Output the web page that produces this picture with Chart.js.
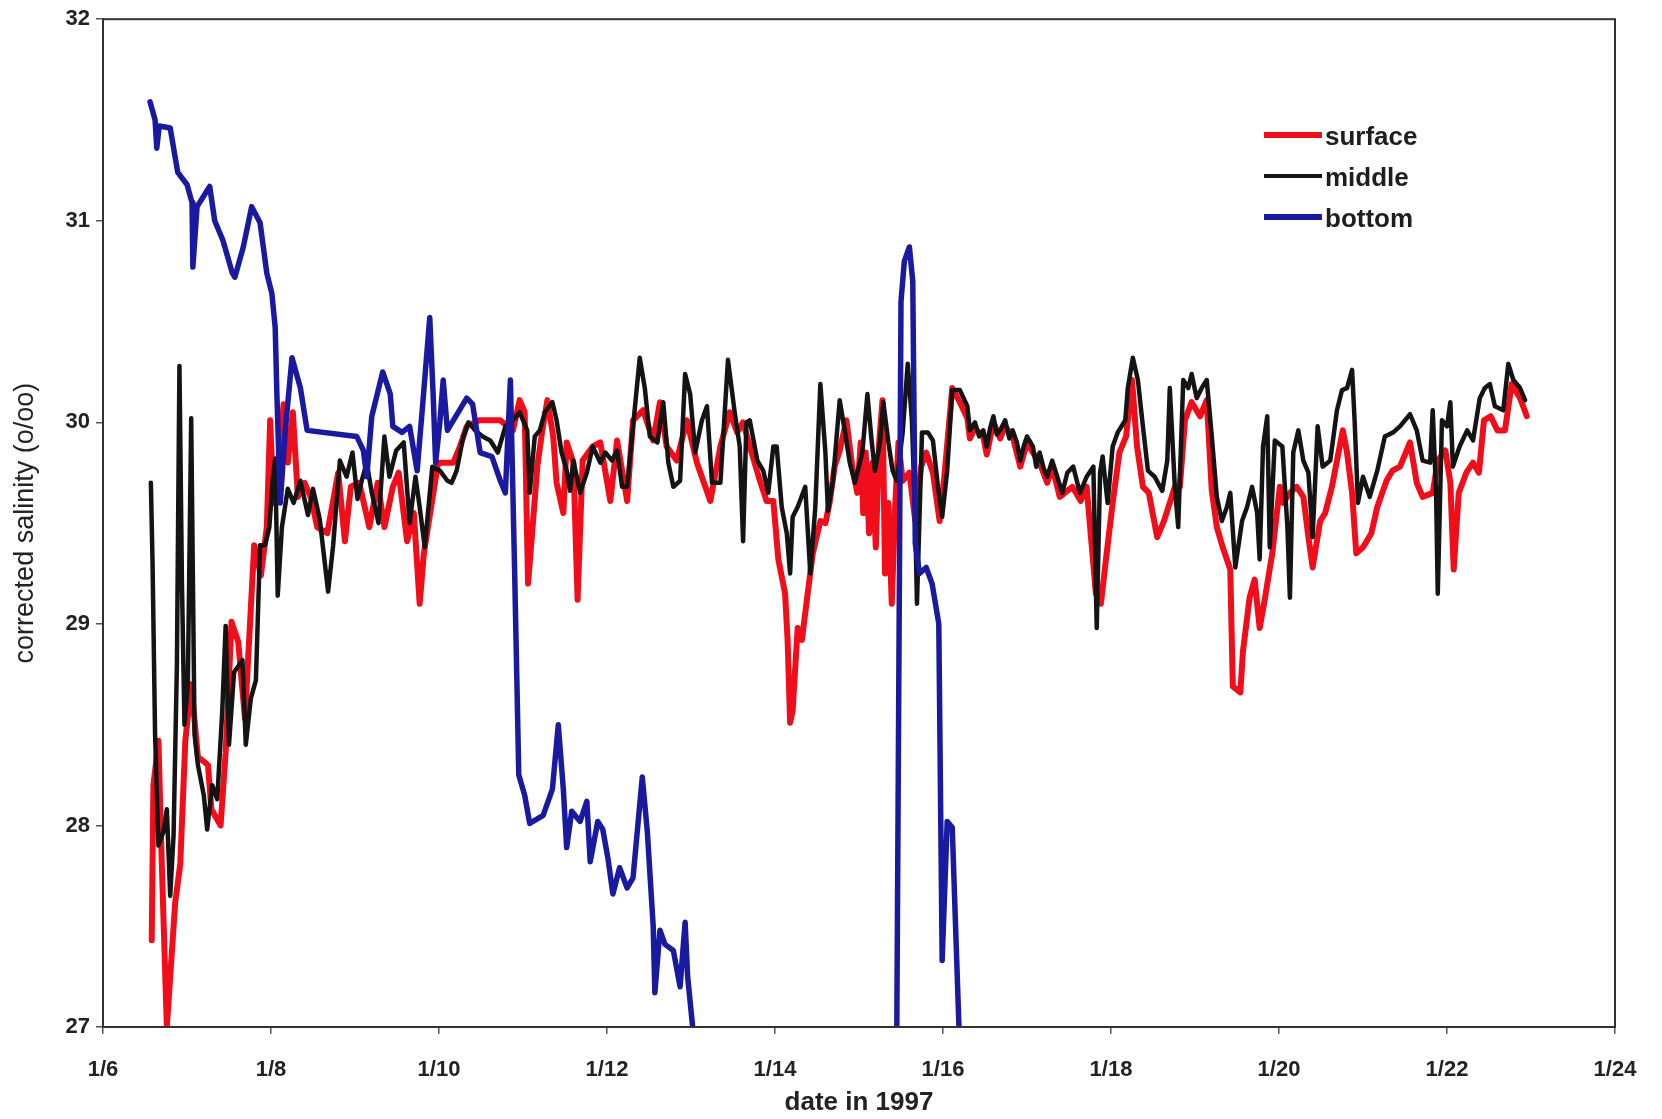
<!DOCTYPE html>
<html>
<head>
<meta charset="utf-8">
<script src="https://cdn.jsdelivr.net/npm/chart.js@4.4.1/dist/chart.umd.min.js"></script>
<style>
  html, body { margin: 0; background: #fff; }
</style>
</head>
<body>
<canvas id="chart" width="1662" height="1119"></canvas>
<script>
// [day of January 1997, corrected salinity]
const surface = [
  [6.58,27.43],[6.60,28.2],[6.62,28.27],[6.66,28.42],[6.70,27.81],[6.76,27.0],[6.86,27.62],[6.92,27.81],
  [6.98,28.42],[7.05,28.70],[7.13,28.34],[7.25,28.30],[7.29,28.08],[7.40,28.00],[7.46,28.36],[7.53,29.01],
  [7.61,28.91],[7.69,28.53],[7.80,29.39],[7.88,29.24],[7.95,29.48],[7.99,30.01],[8.03,29.6],[8.08,29.75],
  [8.15,30.09],[8.20,29.8],[8.26,30.05],[8.32,29.63],[8.40,29.7],[8.48,29.62],[8.55,29.48],[8.67,29.45],
  [8.80,29.75],[8.88,29.41],[8.95,29.68],[9.05,29.70],[9.17,29.48],[9.27,29.7],[9.35,29.48],[9.45,29.68],
  [9.52,29.75],[9.62,29.41],[9.70,29.55],[9.77,29.10],[9.82,29.35],[9.88,29.51],[9.99,29.80],[10.10,29.80],
  [10.17,29.80],[10.25,29.88],[10.33,29.98],[10.48,30.01],[10.73,30.01],[10.88,29.96],[10.96,30.11],[11.02,30.05],
  [11.06,29.20],[11.12,29.51],[11.17,29.78],[11.23,29.96],[11.29,30.11],[11.36,29.93],[11.40,29.70],[11.48,29.55],
  [11.52,29.90],[11.60,29.80],[11.65,29.12],[11.71,29.81],[11.83,29.88],[11.92,29.90],[12.04,29.61],[12.12,29.91],
  [12.24,29.61],[12.31,30.01],[12.43,30.06],[12.55,29.91],[12.63,30.10],[12.71,29.88],[12.83,29.81],[12.95,30.01],
  [13.07,29.80],[13.23,29.61],[13.35,29.88],[13.46,30.05],[13.55,29.95],[13.62,30.0],[13.70,29.88],[13.82,29.71],
  [13.90,29.61],[13.98,29.61],[14.04,29.32],[14.12,29.15],[14.15,28.92],[14.18,28.51],[14.21,28.57],[14.27,28.98],
  [14.32,28.92],[14.38,29.12],[14.45,29.35],[14.54,29.51],[14.60,29.50],[14.65,29.60],[14.71,29.78],[14.77,29.86],
  [14.85,30.01],[14.92,29.78],[14.98,29.65],[15.02,29.9],[15.05,29.55],[15.08,29.85],[15.12,29.45],[15.16,29.8],
  [15.20,29.38],[15.24,29.9],[15.28,30.11],[15.31,29.25],[15.35,29.6],[15.39,29.10],[15.43,29.58],[15.47,29.9],
  [15.52,29.71],[15.60,29.75],[15.67,29.51],[15.74,29.78],[15.80,29.85],[15.88,29.75],[15.96,29.51],[16.02,29.75],
  [16.11,30.17],[16.20,30.10],[16.29,30.02],[16.32,29.92],[16.38,29.97],[16.48,29.93],[16.52,29.84],[16.60,30.0],
  [16.68,29.92],[16.74,29.98],[16.83,29.93],[16.92,29.78],[17.0,29.9],[17.07,29.85],[17.15,29.80],[17.24,29.70],
  [17.30,29.78],[17.36,29.68],[17.39,29.63],[17.54,29.68],[17.64,29.61],[17.71,29.68],[17.82,29.15],[17.88,29.10],
  [17.94,29.32],[18.02,29.60],[18.10,29.85],[18.18,29.93],[18.25,30.21],[18.31,29.88],[18.38,29.68],[18.45,29.65],
  [18.55,29.43],[18.63,29.51],[18.70,29.60],[18.76,29.68],[18.82,29.68],[18.88,30.01],[18.96,30.10],[19.06,30.03],
  [19.14,30.11],[19.20,29.66],[19.26,29.48],[19.33,29.38],[19.42,29.27],[19.45,28.69],[19.54,28.66],[19.57,28.86],
  [19.65,29.13],[19.71,29.22],[19.77,28.98],[19.83,29.12],[19.92,29.35],[20.01,29.68],[20.05,29.60],[20.13,29.65],
  [20.21,29.68],[20.29,29.63],[20.35,29.43],[20.40,29.28],[20.49,29.51],[20.55,29.55],[20.63,29.68],[20.69,29.81],
  [20.76,29.96],[20.81,29.85],[20.87,29.65],[20.92,29.35],[21.0,29.38],[21.10,29.45],[21.17,29.58],[21.28,29.71],
  [21.35,29.76],[21.44,29.78],[21.56,29.90],[21.64,29.70],[21.71,29.63],[21.83,29.65],[21.89,29.81],[21.98,29.86],
  [22.04,29.70],[22.08,29.27],[22.14,29.65],[22.23,29.75],[22.31,29.80],[22.38,29.75],[22.44,30.01],[22.52,30.03],
  [22.60,29.96],[22.69,29.96],[22.77,30.19],[22.87,30.12],[22.95,30.03]
];

const middle = [
  [6.57,29.70],[6.59,29.3],[6.62,28.45],[6.66,27.9],[6.72,27.97],[6.76,28.08],[6.80,27.65],[6.84,27.95],
  [6.88,28.8],[6.91,30.28],[6.94,29.2],[6.97,28.5],[7.01,28.7],[7.05,30.02],[7.09,28.45],[7.13,28.3],
  [7.20,28.15],[7.24,27.98],[7.30,28.2],[7.36,28.13],[7.42,28.57],[7.46,28.99],[7.50,28.4],[7.56,28.76],
  [7.66,28.82],[7.70,28.40],[7.76,28.63],[7.82,28.72],[7.87,29.39],[7.93,29.39],[7.98,29.48],[8.02,29.71],
  [8.05,29.82],[8.08,29.14],[8.13,29.48],[8.20,29.67],[8.27,29.6],[8.35,29.71],[8.44,29.54],[8.50,29.67],[8.58,29.52],
  [8.68,29.16],[8.74,29.39],[8.82,29.81],[8.90,29.73],[8.97,29.85],[9.03,29.62],[9.08,29.71],[9.14,29.8],[9.20,29.65],[9.28,29.5],
  [9.35,29.93],[9.41,29.73],[9.49,29.86],[9.58,29.90],[9.65,29.50],[9.72,29.73],[9.77,29.58],[9.83,29.38],
  [9.92,29.78],[10.01,29.76],[10.10,29.71],[10.15,29.70],[10.21,29.76],[10.29,29.93],[10.35,30.0],[10.43,29.96],
  [10.52,29.93],[10.61,29.91],[10.70,29.85],[10.79,29.98],[10.88,30.01],[10.96,30.05],[11.05,29.96],[11.08,29.65],
  [11.14,29.93],[11.20,29.96],[11.26,30.05],[11.35,30.10],[11.40,30.01],[11.46,29.85],[11.52,29.76],[11.56,29.66],
  [11.60,29.81],[11.68,29.65],[11.76,29.75],[11.83,29.88],[11.92,29.80],[11.98,29.85],[12.06,29.81],[12.12,29.86],
  [12.18,29.68],[12.24,29.68],[12.31,29.98],[12.39,30.32],[12.45,30.17],[12.51,29.93],[12.60,29.90],[12.67,30.10],
  [12.73,29.80],[12.79,29.68],[12.87,29.71],[12.93,30.24],[12.99,30.14],[13.05,29.85],[13.13,30.01],[13.19,30.08],
  [13.25,29.70],[13.35,29.70],[13.44,30.31],[13.52,30.05],[13.58,29.88],[13.62,29.41],[13.66,30.0],[13.70,30.01],
  [13.79,29.81],[13.86,29.76],[13.92,29.65],[13.98,29.88],[14.02,29.88],[14.08,29.58],[14.14,29.45],[14.18,29.25],
  [14.21,29.53],[14.27,29.58],[14.36,29.68],[14.42,29.25],[14.48,29.58],[14.54,30.19],[14.60,29.85],[14.63,29.56],
  [14.69,29.71],[14.77,30.11],[14.83,29.96],[14.89,29.80],[14.95,29.70],[15.04,29.85],[15.10,30.14],[15.15,29.91],
  [15.19,29.76],[15.25,29.90],[15.29,30.10],[15.35,29.90],[15.40,29.76],[15.45,29.71],[15.52,29.95],[15.58,30.29],
  [15.63,30.01],[15.67,29.51],[15.69,29.10],[15.75,29.95],[15.82,29.95],[15.88,29.91],[15.94,29.68],[15.99,29.53],
  [16.05,29.76],[16.11,30.16],[16.20,30.16],[16.29,30.08],[16.32,29.96],[16.38,30.0],[16.43,29.93],[16.48,29.96],[16.52,29.88],
  [16.56,29.97],[16.60,30.03],[16.64,29.94],[16.68,29.96],[16.74,30.01],[16.79,29.92],[16.83,29.96],[16.88,29.9],[16.92,29.81],[16.96,29.88],[17.0,29.93],[17.07,29.88],[17.11,29.78],[17.15,29.85],
  [17.20,29.77],[17.24,29.73],[17.30,29.81],[17.36,29.73],[17.42,29.65],[17.48,29.75],[17.55,29.78],[17.63,29.65],[17.71,29.73],
  [17.79,29.78],[17.83,28.98],[17.87,29.75],[17.90,29.83],[17.96,29.60],[18.02,29.88],[18.08,29.95],[18.17,30.01],
  [18.20,30.17],[18.26,30.32],[18.32,30.21],[18.38,29.98],[18.44,29.76],[18.52,29.73],[18.61,29.66],[18.67,29.81],
  [18.70,30.17],[18.76,29.68],[18.80,29.48],[18.86,30.21],[18.92,30.17],[18.96,30.24],[19.02,30.12],[19.08,30.17],
  [19.14,30.21],[19.20,29.93],[19.26,29.63],[19.32,29.51],[19.38,29.58],[19.42,29.65],[19.48,29.28],[19.56,29.51],
  [19.62,29.58],[19.68,29.68],[19.74,29.55],[19.77,29.32],[19.81,29.88],[19.86,30.03],[19.89,29.38],[19.95,29.91],
  [20.04,29.88],[20.10,29.48],[20.13,29.13],[20.17,29.85],[20.23,29.96],[20.29,29.81],[20.35,29.75],[20.40,29.43],
  [20.46,29.98],[20.52,29.78],[20.61,29.81],[20.69,30.06],[20.75,30.16],[20.81,30.17],[20.87,30.26],[20.90,30.01],
  [20.94,29.60],[21.0,29.73],[21.08,29.63],[21.17,29.76],[21.26,29.93],[21.36,29.95],[21.44,29.98],[21.56,30.04],
  [21.64,29.96],[21.71,29.81],[21.80,29.80],[21.83,30.06],[21.87,29.65],[21.89,29.15],[21.94,30.01],[22.0,29.98],
  [22.04,30.10],[22.07,29.78],[22.15,29.88],[22.24,29.96],[22.31,29.91],[22.39,30.12],[22.45,30.17],[22.51,30.19],
  [22.57,30.08],[22.67,30.06],[22.73,30.29],[22.79,30.21],[22.87,30.17],[22.93,30.11]
];

const bottom = [
  [6.56,31.59],[6.62,31.50],[6.64,31.36],[6.67,31.47],[6.80,31.46],[6.89,31.24],[7.00,31.18],[7.06,31.09],
  [7.07,30.77],[7.12,31.07],[7.27,31.17],[7.33,31.00],[7.43,30.90],[7.54,30.74],[7.57,30.72],[7.67,30.87],
  [7.77,31.07],[7.87,30.99],[7.95,30.74],[8.01,30.64],[8.05,30.47],[8.07,30.14],[8.11,29.60],[8.17,29.96],
  [8.25,30.32],[8.35,30.17],[8.43,29.96],[9.02,29.93],[9.10,29.86],[9.14,29.73],[9.20,30.03],[9.33,30.25],
  [9.42,30.14],[9.45,29.98],[9.56,29.95],[9.65,29.98],[9.74,29.76],[9.81,30.11],[9.89,30.52],[9.93,30.14],
  [9.96,29.80],[10.01,30.0],[10.05,30.21],[10.10,29.96],[10.33,30.12],[10.40,30.09],[10.49,29.85],[10.63,29.83],
  [10.73,29.71],[10.79,29.65],[10.85,30.21],[10.90,29.27],[10.95,28.25],[11.02,28.15],[11.08,28.01],[11.24,28.05],
  [11.35,28.18],[11.42,28.50],[11.48,28.18],[11.52,27.89],[11.58,28.07],[11.68,28.02],[11.76,28.12],[11.80,27.82],
  [11.89,28.02],[11.95,27.98],[12.01,27.84],[12.07,27.66],[12.15,27.79],[12.24,27.69],[12.31,27.74],[12.42,28.24],
  [12.48,27.97],[12.55,27.50],[12.57,27.17],[12.63,27.48],[12.69,27.41],[12.79,27.38],[12.87,27.20],[12.93,27.52],
  [12.96,27.25],[13.02,27.0],[13.10,26.6],[15.40,26.6],[15.45,27.0],[15.50,30.6],[15.54,30.8],[15.60,30.87],
  [15.64,30.7],[15.67,29.4],[15.72,29.25],[15.80,29.28],[15.87,29.2],[15.95,29.0],[15.99,27.33],[16.05,28.02],
  [16.11,27.99],[16.19,27.0],[16.25,26.6]
];

const xTicks = [6, 8, 10, 12, 14, 16, 18, 20, 22, 24];
const yTicks = [27, 28, 29, 30, 31, 32];

const FONT = "'Liberation Sans', Arial, sans-serif";

const frame = {
  id: 'frame',
  afterDatasetsDraw(chart) {
    const { ctx, chartArea: a } = chart;
    ctx.save();
    ctx.strokeStyle = '#333';
    ctx.lineWidth = 2;
    ctx.strokeRect(a.left, a.top, a.right - a.left, a.bottom - a.top);
    ctx.restore();
  }
};

const legendBox = {
  id: 'legendBox',
  afterDraw(chart) {
    const { ctx } = chart;
    ctx.save();
    ctx.font = 'bold 26px ' + FONT;
    ctx.textBaseline = 'middle';
    [0, 1, 2].forEach(i => {
      const ds = chart.data.datasets[i];
      const y = 135 + i * 41;
      ctx.strokeStyle = ds.borderColor;
      ctx.lineWidth = ds.legendWidth;
      ctx.beginPath();
      ctx.moveTo(1264, y);
      ctx.lineTo(1322, y);
      ctx.stroke();
      ctx.fillStyle = '#1e1e1e';
      ctx.fillText(ds.label, 1325, y + 3);
    });
    ctx.restore();
  }
};

const axisStyle = {
  grid: { drawOnChartArea: false, drawTicks: true, tickLength: 7, color: '#555', lineWidth: 1.5 },
  border: { display: true, color: '#333', width: 2 }
};

new Chart(document.getElementById('chart'), {
  type: 'line',
  data: {
    datasets: [
      { label: 'surface', data: surface, borderColor: '#f20d1a', borderWidth: 6, legendWidth: 6, order: 3 },
      { label: 'middle', data: middle, borderColor: '#141414', borderWidth: 4.5, legendWidth: 4, order: 2 },
      { label: 'bottom', data: bottom, borderColor: '#1a1aa0', borderWidth: 5.5, legendWidth: 6, order: 1 }
    ]
  },
  options: {
    responsive: false,
    animation: false,
    elements: {
      point: { radius: 0 },
      line: { tension: 0, borderJoinStyle: 'round', borderCapStyle: 'round' }
    },
    layout: { padding: { left: 0, right: 47, top: 12, bottom: 0 } },
    plugins: {
      legend: { display: false },
      tooltip: { enabled: false }
    },
    scales: {
      x: {
        type: 'linear',
        min: 6,
        max: 24,
        afterBuildTicks: s => { s.ticks = xTicks.map(v => ({ value: v })) },
        afterFit: s => { s.height = 92 },
        ticks: {
          autoSkip: false,
          maxRotation: 0,
          padding: 23,
          color: '#222',
          font: { family: FONT, size: 22, weight: 'bold' },
          callback: v => '1/' + v
        },
        title: {
          display: true,
          text: 'date in 1997',
          color: '#222',
          font: { family: FONT, size: 26, weight: 'bold' },
          padding: { top: 0, bottom: 1 }
        },
        ...axisStyle
      },
      y: {
        min: 27,
        max: 32,
        afterBuildTicks: s => { s.ticks = yTicks.map(v => ({ value: v })) },
        afterFit: s => { s.width = 103 },
        ticks: {
          padding: 6,
          color: '#222',
          font: { family: FONT, size: 22, weight: 'bold' }
        },
        title: {
          display: true,
          text: 'corrected salinity (o/oo)',
          color: '#222',
          font: { family: FONT, size: 27, weight: 'normal' },
          padding: { top: 9, bottom: 0 }
        },
        ...axisStyle
      }
    }
  },
  plugins: [frame, legendBox]
});
</script>
</body>
</html>
